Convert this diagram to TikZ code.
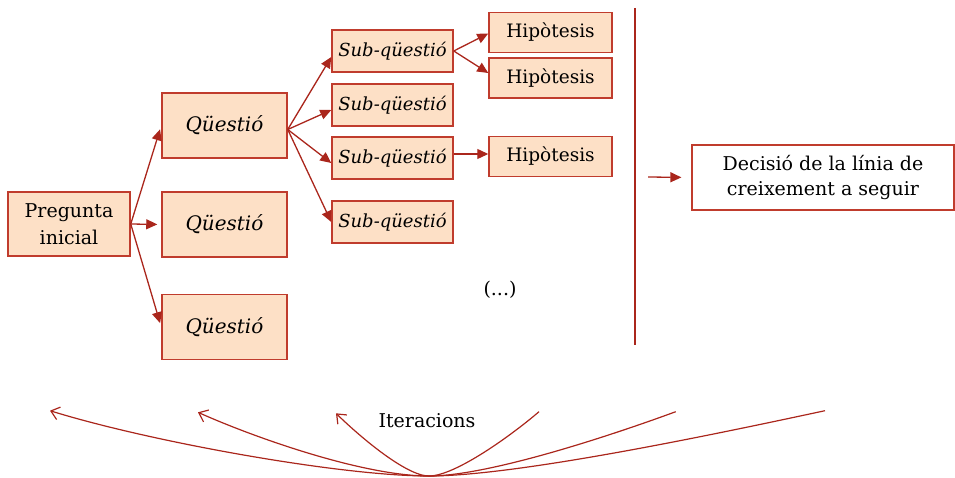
\documentclass[tikz,border=0pt]{standalone}
\usepackage{fontspec}
\setmainfont{DejaVu Serif}
\usetikzlibrary{arrows.meta}
\definecolor{boxfill}{RGB}{253,224,198}
\definecolor{boxline}{RGB}{192,60,45}
\definecolor{arr}{RGB}{170,38,28}
\tikzset{
  box/.style={draw=boxline, fill=boxfill, line width=1.5pt, inner sep=0pt, align=center,
    font=\fontsize{19}{27}\selectfont},
  qbox/.style={box, minimum width=125pt, minimum height=65pt, font=\fontsize{20}{26}\selectfont\itshape},
  sbox/.style={box, minimum width=121pt, minimum height=42pt, font=\fontsize{18}{26}\selectfont\itshape},
  hbox/.style={box, minimum width=123pt, minimum height=40pt, font=\fontsize{18.5}{26}\selectfont},
  conn/.style={draw=arr, line width=1.3pt, -{Triangle[length=11pt,width=10pt]}},
  iter/.style={draw=arr, line width=1.2pt},
  barb/.style={{Straight Barb[length=8pt,width=13pt]}-},
  plain/.style={font=\fontsize{19}{25}\selectfont, inner sep=0pt, align=center}
}
\begin{document}
\begin{tikzpicture}[x=1pt,y=-1pt]
\useasboundingbox (0,0) rectangle (955,478);
% nodes
\node[box, minimum width=122pt, minimum height=64pt] (P) at (69,224) {Pregunta\\inicial};
\node[qbox] (Q1) at (224.5,125.5) {Qüestió};
\node[qbox] (Q2) at (224.5,224.5) {Qüestió};
\node[qbox] (Q3) at (224.5,327) {Qüestió};
\node[sbox] (S1) at (392.5,51) {Sub-qüestió};
\node[sbox] (S2) at (392.5,105) {Sub-qüestió};
\node[sbox] (S3) at (392.5,158) {Sub-qüestió};
\node[sbox] (S4) at (392.5,222) {Sub-qüestió};
\node[hbox] (H1) at (550.5,32.5) {Hipòtesis};
\node[hbox] (H2) at (550.5,78) {Hipòtesis};
\node[hbox] (H3) at (550.5,156.5) {Hipòtesis};
\node[draw=boxline, fill=white, line width=1.2pt, minimum width=262pt, minimum height=65pt,
  inner sep=0pt, align=center, font=\fontsize{19}{25}\selectfont] (D) at (823,177.5)
  {Decisió de la línia de\\creixement a seguir};
\node[plain] (dots) at (500,290) {(...)};
\node[inner sep=0pt, font=\fontsize{19}{22}\selectfont] (it) at (427,421) {Iteracions};
% vertical bar
\coordinate (vt) at (635,8);
\coordinate (vb) at (635,345);
\draw[arr, line width=2.8pt] (vt) -- (vb);
% connectors
\draw[conn, shorten >=4pt] (P.east) -- (Q1.west);
\draw[conn, shorten >=4pt] (P.east) -- (Q2.west);
\draw[conn, shorten >=4pt] (P.east) -- (Q3.west);
\draw[conn] ([yshift=-4pt]Q1.east) -- ([yshift=-6pt]S1.west);
\draw[conn] ([yshift=-4pt]Q1.east) -- ([yshift=-5pt]S2.west);
\draw[conn] ([yshift=-4pt]Q1.east) -- ([yshift=-5pt]S3.west);
\draw[conn] ([yshift=-4pt]Q1.east) -- (S4.west);
\draw[conn] (S1.east) -- ([yshift=-1pt]H1.west);
\draw[conn] (S1.east) -- ([yshift=5pt]H2.west);
\draw[conn] ([yshift=4pt]S3.east) -- ([yshift=2.5pt]H3.west);
\coordinate (da) at (648,177);
\draw[conn, shorten >=10pt] (da) -- (D.west);
% iteration curves
\coordinate (bot) at (429,476);
\coordinate (l1) at (50,410.7);
\coordinate (l2) at (198,412.3);
\coordinate (l3) at (336,413.3);
\coordinate (r1) at (825,410.7);
\coordinate (r2) at (675.7,411.7);
\coordinate (r3) at (539,411.7);
\draw[iter, barb] (l1) .. controls (150,441.7) and (340,476) .. (bot)
  .. controls (520,476) and (730,431) .. (r1);
\draw[iter, barb] (l2) .. controls (252,436.5) and (362,476) .. (bot)
  .. controls (490,476) and (616,433.7) .. (r2);
\draw[iter, barb] (l3) .. controls (356,433) and (405,476) .. (bot)
  .. controls (455,476) and (511,435.7) .. (r3);
\end{tikzpicture}
\end{document}
